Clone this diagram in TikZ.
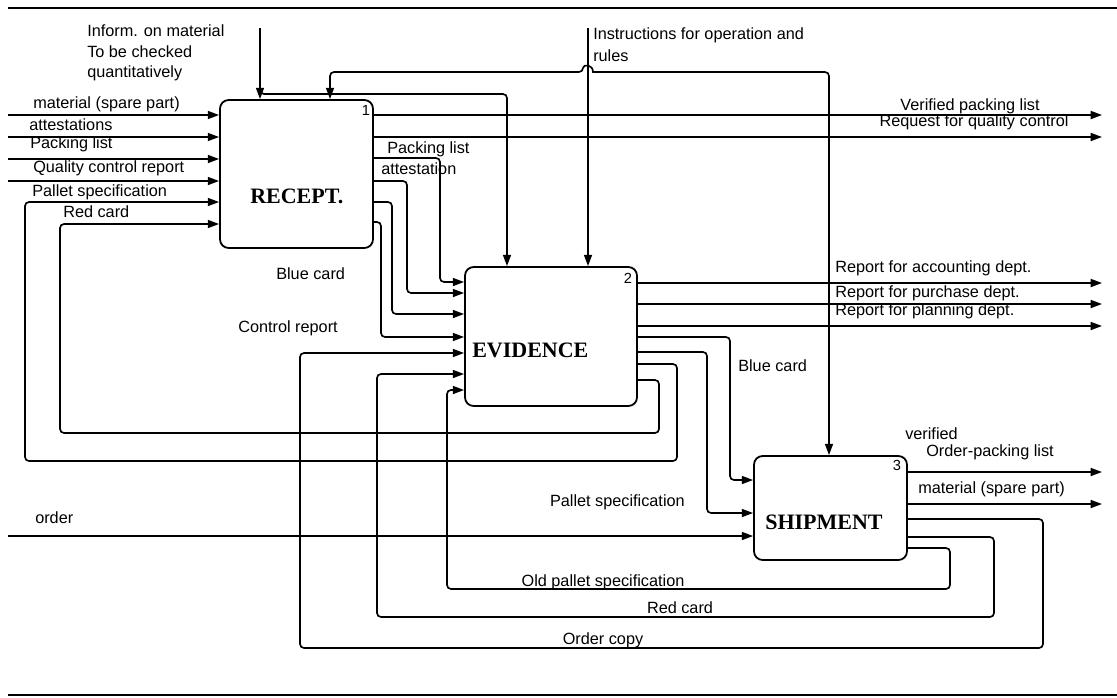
\documentclass[tikz,border=0pt]{standalone}
\usepackage{fontspec}
\newfontfamily\lsans{Liberation Sans}
\newfontfamily\lserif{Liberation Serif}
\usetikzlibrary{arrows.meta,fit}

\begin{document}
\begin{tikzpicture}[x=0.75pt,y=-0.75pt,
  box/.style={draw, line width=1.35pt, rounded corners=6.5pt, inner sep=0pt},
  wire/.style={line width=1.25pt, rounded corners=3pt},
  arr/.style={wire, -{Triangle[length=8.5pt,width=6pt]}},
  arrboth/.style={wire, {Triangle[length=8.5pt,width=6pt]}-{Triangle[length=8.5pt,width=6pt]}},
  lbl/.style={font=\lsans\fontsize{12.2}{14}\selectfont, inner sep=0pt, anchor=base west},
  ttl/.style={font=\lserif\bfseries\fontsize{16.5}{18}\selectfont, inner sep=0pt, anchor=base west},
  num/.style={font=\lsans\fontsize{11}{13}\selectfont, inner sep=0pt, anchor=base},
  frame/.style={line width=1.5pt}]

\useasboundingbox (0,0) rectangle (1117,697);

% frame rules
\draw[frame] (8,8) -- (1117,8);
\draw[frame] (8,695) -- (1117,695);

% activity boxes
\node[box, fit={(220,100) (373,248)}] (rec) {};
\node[box, fit={(465,267) (637,406)}] (evi) {};
\node[box, fit={(754,456) (907,560)}] (shp) {};

\node[ttl] (rec-t) at (250,203) {RECEPT.};
\node[ttl] (evi-t) at (472,357) {EVIDENCE};
\node[ttl] (shp-t) at (765,529) {SHIPMENT};
\node[num] (rec-n) at (366,115) {1};
\node[num] (evi-n) at (628,283) {2};
\node[num] (shp-n) at (897,470) {3};

% free ends
\coordinate (inMat)  at (8,115);
\coordinate (inAtt)  at (8,137);
\coordinate (inPack) at (8,159);
\coordinate (inQual) at (8,181);
\coordinate (inOrd)  at (8,536);
\coordinate (ctlInf) at (260,28);
\coordinate (infBr)  at (260,84);
\coordinate (ctlIns) at (588,28);
\coordinate (outVer) at (1102,115);
\coordinate (outReq) at (1102,137);
\coordinate (outAcc) at (1102,283);
\coordinate (outPur) at (1102,304);
\coordinate (outPla) at (1102,326);
\coordinate (outOpl) at (1102,472);
\coordinate (outMat) at (1102,504);

% inputs of RECEPT.
\draw[arr] (inMat)  -- (rec.west |- inMat);
\draw[arr] (inAtt)  -- (rec.west |- inAtt);
\draw[arr] (inPack) -- (rec.west |- inPack);
\draw[arr] (inQual) -- (rec.west |- inQual);

% controls
\draw[arr] (ctlInf) -- (ctlInf |- rec.north);
\draw[arr] (infBr) -- (260,94) -- (507,94) -- (507,0 |- evi.north);
\draw[arr] (ctlIns) -- (ctlIns |- evi.north);
\draw[arrboth] (330,0 |- rec.north) -- (330,72) -- (583,72)
  [sharp corners] .. controls (583,64) and (593,64) .. (593,72)
  [rounded corners=3pt] -- (829,72) -- (829,0 |- shp.north);

% outputs of RECEPT.
\draw[arr] (rec.east |- outVer) -- (outVer);
\draw[arr] (rec.east |- outReq) -- (outReq);
\draw[arr] (rec.east |- 0,158) -- (440,158) -- (440,282) -- (evi.west |- 0,282);
\draw[arr] (rec.east |- 0,181) -- (407,181) -- (407,293) -- (evi.west |- 0,293);
\draw[arr] (rec.east |- 0,202) -- (392,202) -- (392,314) -- (evi.west |- 0,314);
\draw[arr] (rec.east |- 0,222) -- (381,222) -- (381,337) -- (evi.west |- 0,337);

% outputs of EVIDENCE
\draw[arr] (evi.east |- outAcc) -- (outAcc);
\draw[arr] (evi.east |- outPur) -- (outPur);
\draw[arr] (evi.east |- outPla) -- (outPla);
\draw[arr] (evi.east |- 0,337) -- (730,337) -- (730,480) -- (shp.west |- 0,480);
\draw[arr] (evi.east |- 0,352) -- (707,352) -- (707,513) -- (shp.west |- 0,513);
\draw[arr] (evi.east |- 0,364) -- (677,364) -- (677,461) -- (25,461) -- (25,202) -- (rec.west |- 0,202);
\draw[arr] (evi.east |- 0,380) -- (659,380) -- (659,433) -- (60,433) -- (60,224) -- (rec.west |- 0,224);

% SHIPMENT
\draw[arr] (inOrd) -- (shp.west |- inOrd);
\draw[arr] (shp.east |- outOpl) -- (outOpl);
\draw[arr] (shp.east |- outMat) -- (outMat);
\draw[arr] (shp.east |- 0,519) -- (1043,519) -- (1043,648) -- (300,648) -- (300,353) -- (evi.west |- 0,353);
\draw[arr] (shp.east |- 0,537) -- (994,537) -- (994,617) -- (377,617) -- (377,374) -- (evi.west |- 0,374);
\draw[arr] (shp.east |- 0,548) -- (950,548) -- (950,589) -- (447,589) -- (447,390) -- (evi.west |- 0,390);

% labels
\node[lbl] (l-inf1) at (87,36) {Inform. on material};
\node[lbl] (l-inf2) at (87,57) {To be checked};
\node[lbl] (l-inf3) at (87,77) {quantitatively};
\node[lbl] (l-ins1) at (593,39) {Instructions for operation and};
\node[lbl] (l-ins2) at (593,61) {rules};

\node[lbl] (l-mat)  at (33,108) {material (spare part)};
\node[lbl] (l-att)  at (29,130) {attestations};
\node[lbl] (l-pack) at (30,148) {Packing list};
\node[lbl] (l-qual) at (33,172) {Quality control report};
\node[lbl] (l-pal)  at (32,196) {Pallet specification};
\node[lbl] (l-red)  at (63,217) {Red card};

\node[lbl, anchor=base] (l-ver) at (970,110) {Verified packing list};
\node[lbl, anchor=base] (l-req) at (974,126) {Request for quality control};
\node[lbl] (l-pl2)  at (387,153) {Packing list};
\node[lbl] (l-at2)  at (381,174) {attestation};
\node[lbl] (l-blu1) at (276,279) {Blue card};
\node[lbl] (l-ctr)  at (238,332) {Control report};

\node[lbl] (l-acc) at (835,272) {Report for accounting dept.};
\node[lbl] (l-pur) at (835,297) {Report for purchase dept.};
\node[lbl] (l-pla) at (835,315) {Report for planning dept.};
\node[lbl] (l-blu2) at (738,371) {Blue card};
\node[lbl, anchor=base east] (l-pal2) at (685,506) {Pallet specification};

\node[lbl] (l-vrf) at (905,439) {verified};
\node[lbl] (l-opl) at (926,456) {Order-packing list};
\node[lbl] (l-mat2) at (918,493) {material (spare part)};
\node[lbl] (l-ord) at (35,523) {order};

\node[lbl, anchor=base] (l-old) at (603,586) {Old pallet specification};
\node[lbl, anchor=base] (l-red2) at (680,613) {Red card};
\node[lbl, anchor=base] (l-cpy) at (603,644) {Order copy};
\end{tikzpicture}
\end{document}
